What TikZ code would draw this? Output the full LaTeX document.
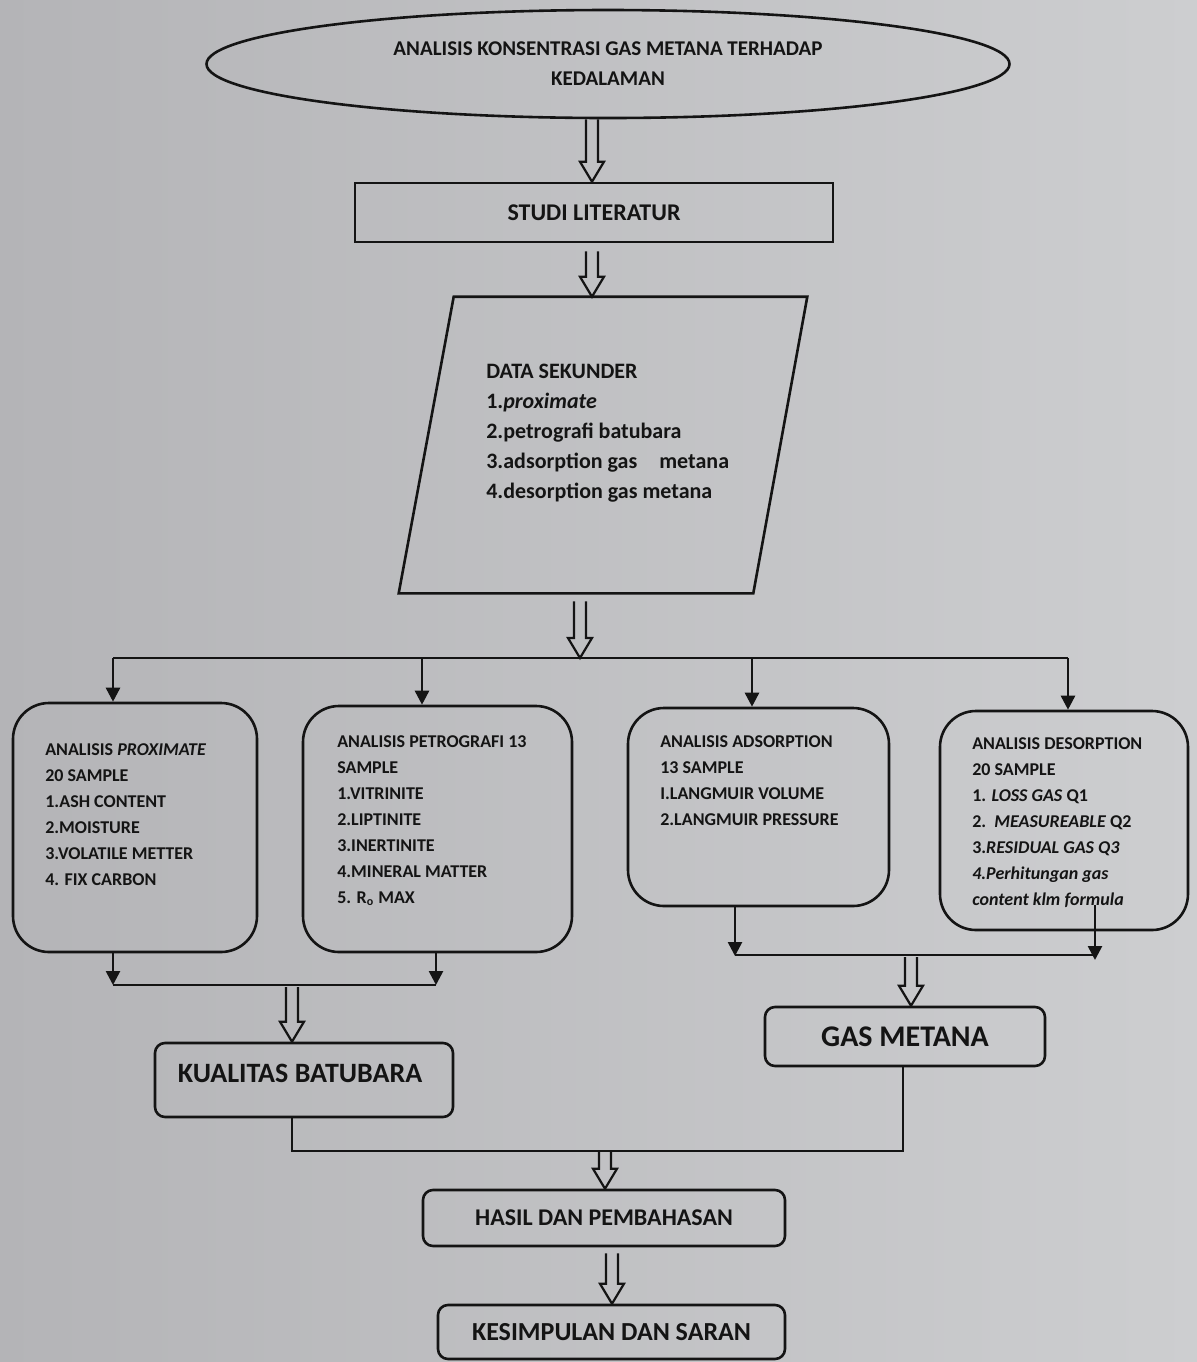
\documentclass[tikz,border=0pt]{standalone}
\usepackage{fontspec}
\setmainfont{Carlito}
\usetikzlibrary{shapes.geometric,arrows.meta,calc}
\definecolor{bgleft}{RGB}{180,180,183}
\definecolor{bgmid}{RGB}{215,215,215}
\definecolor{bgright}{RGB}{205,206,208}
\definecolor{ink}{RGB}{20,20,20}
\newcommand{\harrow}[3]{%
  \coordinate (ha) at (#1,0 |- #2);
  \coordinate (hb) at (#1,0 |- #3);
  \draw[hollow] ($(ha)+(-6,0)$) -- ($(hb)+(-6,-20)$) -- ($(hb)+(-12,-20)$) -- (hb)
     -- ($(hb)+(12,-20)$) -- ($(hb)+(6,-20)$) -- ($(ha)+(6,0)$);%
}
\begin{document}
\begin{tikzpicture}[x=0.5pt,y=-0.5pt,
  color=ink,
  line width=1.3pt,
  hollow/.style={line width=1.1pt, line join=miter},
  arr/.style={-{Triangle[length=7pt,width=7pt]}},
  rbox/.style={draw=ink, rounded corners=18pt, inner sep=0pt},
  sbox/.style={draw=ink, rounded corners=5pt, inner sep=0pt},
  listtxt/.style={inner sep=0pt, anchor=north west, align=left, text=ink,
     font=\bfseries\fontsize{9}{13}\selectfont},
  bigtxt/.style={text=ink, font=\bfseries\fontsize{14}{16}\selectfont}
]
\shade[left color=bgleft, middle color=bgmid, right color=bgright] (0,0) rectangle (1197,1362);
\useasboundingbox (0,0) rectangle (1197,1362);

% top ellipse
\node[ellipse, draw=ink, inner sep=0pt, minimum width=401.5pt, minimum height=54pt,
  align=center, text=ink, font=\bfseries\fontsize{10.5}{15}\selectfont] (ell) at (608,64)
  {ANALISIS KONSENTRASI GAS METANA TERHADAP\\KEDALAMAN};

% studi literatur
\node[rectangle, draw=ink, inner sep=0pt, minimum width=239pt, minimum height=29.5pt,
  text=ink, font=\bfseries\fontsize{12}{14}\selectfont] (studi) at (594,212.5) {STUDI LITERATUR};

% parallelogram (bounding node + outline)
\node[rectangle, draw=none, inner sep=0pt, minimum width=203pt, minimum height=147pt] (para) at (603,445) {};
\draw ($(para.north west)+(55,0)$) -- (para.north east) -- ($(para.south east)+(-54,0)$)
  -- (para.south west) -- cycle;
\node[listtxt, font=\bfseries\fontsize{11}{15}\selectfont] (paratxt) at (485,363)
  {DATA SEKUNDER\\1.\textit{proximate}\\2.petrografi batubara\\3.adsorption gas\quad metana\\4.desorption gas metana};

% four analysis boxes
\node[rbox, minimum width=122pt, minimum height=124.5pt] (boxA) at (135,827.5) {};
\node[rbox, minimum width=134.5pt, minimum height=123pt] (boxB) at (437.5,829) {};
\node[rbox, minimum width=130.5pt, minimum height=99pt] (boxC) at (758.5,807) {};
\node[rbox, minimum width=124pt, minimum height=109.5pt] (boxD) at (1064,820.5) {};

\node[listtxt] (txtA) at (44,742)
  {ANALISIS \textit{PROXIMATE}\\20 SAMPLE\\1.ASH CONTENT\\2.MOISTURE\\3.VOLATILE METTER\\4. FIX CARBON};
\node[listtxt] (txtB) at (336,734)
  {ANALISIS PETROGRAFI 13\\SAMPLE\\1.VITRINITE\\2.LIPTINITE\\3.INERTINITE\\4.MINERAL MATTER\\5. R\textsubscript{o} MAX};
\node[listtxt] (txtC) at (659,734)
  {ANALISIS ADSORPTION\\13 SAMPLE\\I.LANGMUIR VOLUME\\2.LANGMUIR PRESSURE};
\node[listtxt] (txtD) at (971,736)
  {ANALISIS DESORPTION\\20 SAMPLE\\1. \textit{LOSS GAS} Q1\\2.\ \ \textit{MEASUREABLE} Q2\\3.\textit{RESIDUAL GAS Q3}\\\textit{4.Perhitungan gas}\\\textit{content klm formula}};

% result boxes
\node[sbox, minimum width=149pt, minimum height=37pt] (kual) at (304,1080) {};
\node[bigtxt, inner sep=0pt] (kualtxt) at (300,1073) {KUALITAS BATUBARA};
\node[sbox, minimum width=140pt, minimum height=29.5pt, bigtxt, font=\bfseries\fontsize{15}{17}\selectfont] (gasm) at (905,1036.5) {GAS METANA};
\node[sbox, minimum width=181pt, minimum height=28pt, text=ink, font=\bfseries\fontsize{12}{14}\selectfont] (hasil) at (604,1218) {HASIL DAN PEMBAHASAN};
\node[sbox, minimum width=173.5pt, minimum height=27pt, text=ink, font=\bfseries\fontsize{13}{15}\selectfont] (kesim) at (611.5,1332) {KESIMPULAN DAN SARAN};

% hollow arrows at top
\harrow{592}{ell.south}{studi.north}
\coordinate (studiout) at ($(studi.south)+(0,8)$);
\harrow{592}{studiout}{para.north}
\coordinate (paraout) at ($(para.south)+(0,8)$);
\coordinate (split) at (580,658);
\harrow{580}{paraout}{split}

% branching line
\coordinate (bl) at (113,658);
\coordinate (br) at (1068,658);
\draw (bl) -- (br);
\draw[arr] (bl) -- (113,0 |- boxA.north);
\draw[arr] (422,658) -- (422,0 |- boxB.north);
\draw[arr] (752,658) -- (752,0 |- boxC.north);
\draw[arr] (br) -- (1068,0 |- boxD.north);

% merge A/B
\coordinate (jA) at (113,985);
\coordinate (jB) at (436,985);
\draw[arr] (113,0 |- boxA.south) -- (jA);
\draw[arr] (436,0 |- boxB.south) -- (jB);
\draw (jA) -- (jB);
\coordinate (jAB) at (292,987);
\harrow{292}{jAB}{kual.north}

% merge C/D
\coordinate (jC) at (735,956);
\coordinate (jD) at (1095,960);
\coordinate (dstart) at (1095,905);
\draw[arr] (735,0 |- boxC.south) -- (jC);
\draw[arr] (dstart) -- (jD);
\draw (735,955) -- (1095,955);
\coordinate (jCD) at (911,957);
\harrow{911}{jCD}{gasm.north}

% merge results
\coordinate (mid) at (605,1151);
\draw (292,0 |- kual.south) |- (903,1151) -- (903,0 |- gasm.south);
\harrow{605}{mid}{hasil.north}
\coordinate (hasilout) at ($(hasil.south)+(0,6)$);
\harrow{612}{hasilout}{kesim.north}
\end{tikzpicture}
\end{document}
